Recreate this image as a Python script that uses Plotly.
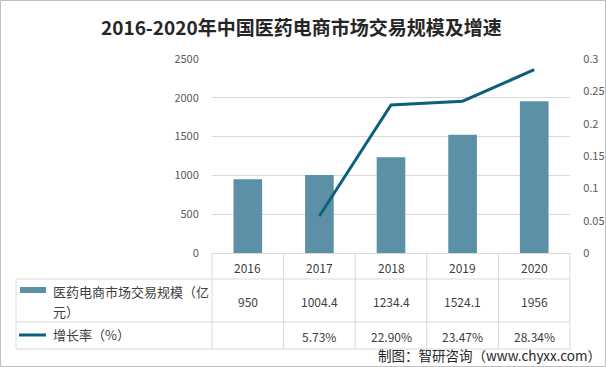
import plotly.graph_objects as go

years = ["2016", "2017", "2018", "2019", "2020"]
scale = [950, 1004.4, 1234.4, 1524.1, 1956]
scale_labels = ["950", "1004.4", "1234.4", "1524.1", "1956"]
growth = [None, 0.0573, 0.2290, 0.2347, 0.2834]
growth_labels = ["", "5.73%", "22.90%", "23.47%", "28.34%"]
left_ticks = [0, 500, 1000, 1500, 2000, 2500]
right_ticks = [0, 0.05, 0.1, 0.15, 0.2, 0.25, 0.3]
right_tick_text = ["0", "0.05", "0.1", "0.15", "0.2", "0.25", "0.3"]
title = "2016-2020年中国医药电商市场交易规模及增速"
bar_name = "医药电商市场交易规模（亿元）"
line_name = "增长率（%）"
source = "制图：智研咨询（www.chyxx.com）"

W, H = 606, 367
BAR_C = "#5b90a6"
LINE_C = "#0e5f7d"
GRID = "#d9d9d9"
TXT = "#404040"
FONT = "Noto Sans CJK SC, Noto Sans, sans-serif"

def px(x):
    return x / W

def py(y):
    return 1 - y / H

X0, X1 = 212, 570
Y_TOP, Y_BOT = 59, 253

fig = go.Figure()
fig.add_trace(go.Bar(x=years, y=scale, marker=dict(color=BAR_C, line=dict(width=0)),
                     width=0.4, name=bar_name, showlegend=False, hoverinfo="skip"))
fig.add_trace(go.Scatter(x=years, y=growth, mode="lines", yaxis="y2",
                         line=dict(color=LINE_C, width=3), name=line_name,
                         showlegend=False, connectgaps=False, hoverinfo="skip"))

shapes = []
annotations = []

colw = (X1 - X0) / len(years)
bounds = [X0 + i * colw for i in range(len(years) + 1)]
for b in bounds:
    shapes.append(dict(type="line", xref="paper", yref="paper",
                       x0=px(b), x1=px(b), y0=py(Y_BOT), y1=py(349),
                       line=dict(color=GRID, width=1)))
for yy in [279, 322, 349]:
    shapes.append(dict(type="line", xref="paper", yref="paper",
                       x0=px(16), x1=px(X1), y0=py(yy), y1=py(yy),
                       line=dict(color=GRID, width=1)))
shapes.append(dict(type="line", xref="paper", yref="paper",
                   x0=px(16), x1=px(16), y0=py(279), y1=py(349),
                   line=dict(color=GRID, width=1)))
shapes.append(dict(type="rect", xref="paper", yref="paper",
                   x0=px(20), x1=px(46), y0=py(293), y1=py(287),
                   fillcolor=BAR_C, line=dict(width=0)))
shapes.append(dict(type="line", xref="paper", yref="paper",
                   x0=px(19), x1=px(46), y0=py(335), y1=py(335),
                   line=dict(color=LINE_C, width=3)))
shapes.append(dict(type="rect", xref="paper", yref="paper",
                   x0=px(0.5), x1=px(W - 0.5), y0=py(H - 0.5), y1=py(0.5),
                   line=dict(color="#bfbfbf", width=1)))

for i, yr in enumerate(years):
    cx = px(X0 + (i + 0.5) * colw)
    annotations.append(dict(x=cx, y=py(267), xref="paper", yref="paper", text=yr,
                            showarrow=False, font=dict(size=12, color=TXT, family=FONT),
                            xanchor="center", yanchor="middle"))
    annotations.append(dict(x=cx, y=py(301), xref="paper", yref="paper", text=scale_labels[i],
                            showarrow=False, font=dict(size=12, color=TXT, family=FONT),
                            xanchor="center", yanchor="middle"))
    if growth_labels[i]:
        annotations.append(dict(x=cx, y=py(336), xref="paper", yref="paper", text=growth_labels[i],
                                showarrow=False, font=dict(size=12, color=TXT, family=FONT),
                                xanchor="center", yanchor="middle"))

annotations.append(dict(x=px(51), y=py(291), xref="paper", yref="paper",
                        text=bar_name[:-2], showarrow=False,
                        font=dict(size=13, color=TXT, family=FONT),
                        xanchor="left", yanchor="middle"))
annotations.append(dict(x=px(51), y=py(311), xref="paper", yref="paper",
                        text=bar_name[-2:], showarrow=False,
                        font=dict(size=13, color=TXT, family=FONT),
                        xanchor="left", yanchor="middle"))
annotations.append(dict(x=px(51), y=py(334), xref="paper", yref="paper",
                        text=line_name, showarrow=False,
                        font=dict(size=13, color=TXT, family=FONT),
                        xanchor="left", yanchor="middle"))
annotations.append(dict(x=px(603), y=py(355), xref="paper", yref="paper",
                        text=source, showarrow=False,
                        font=dict(size=13.5, color="#262626", family=FONT),
                        xanchor="right", yanchor="middle"))
annotations.append(dict(x=px(301), y=py(27), xref="paper", yref="paper",
                        text="<b>" + title + "</b>", showarrow=False,
                        font=dict(size=19, color="#262626", family=FONT),
                        xanchor="center", yanchor="middle"))

fig.update_layout(
    width=W, height=H,
    margin=dict(l=0, r=0, t=0, b=0, autoexpand=False),
    paper_bgcolor="white", plot_bgcolor="white",
    font=dict(family=FONT),
    hovermode=False,
    xaxis=dict(domain=[px(X0), px(X1)], anchor="y", type="category",
               showticklabels=False, showgrid=False, zeroline=False, automargin=False,
               showline=True, linecolor=GRID, linewidth=1, ticks=""),
    yaxis=dict(domain=[py(Y_BOT), py(Y_TOP)], range=[0, 2500], tickvals=left_ticks,
               showgrid=True, gridcolor=GRID, gridwidth=1, zeroline=False, automargin=False,
               showline=False, ticks="outside", ticklen=10, tickcolor="rgba(0,0,0,0)",
               tickfont=dict(size=11, color="#595959", family=FONT)),
    yaxis2=dict(overlaying="y", side="right", anchor="x", range=[0, 0.3], tickvals=right_ticks,
                ticktext=right_tick_text, showgrid=False, zeroline=False, automargin=False,
                showline=False, ticks="outside", ticklen=10, tickcolor="rgba(0,0,0,0)",
                tickfont=dict(size=11, color="#595959", family=FONT)),
    shapes=shapes, annotations=annotations,
)

fig.write_html("out.html", config={"displayModeBar": False, "staticPlot": True},
               post_script="document.body.style.margin='0';")
